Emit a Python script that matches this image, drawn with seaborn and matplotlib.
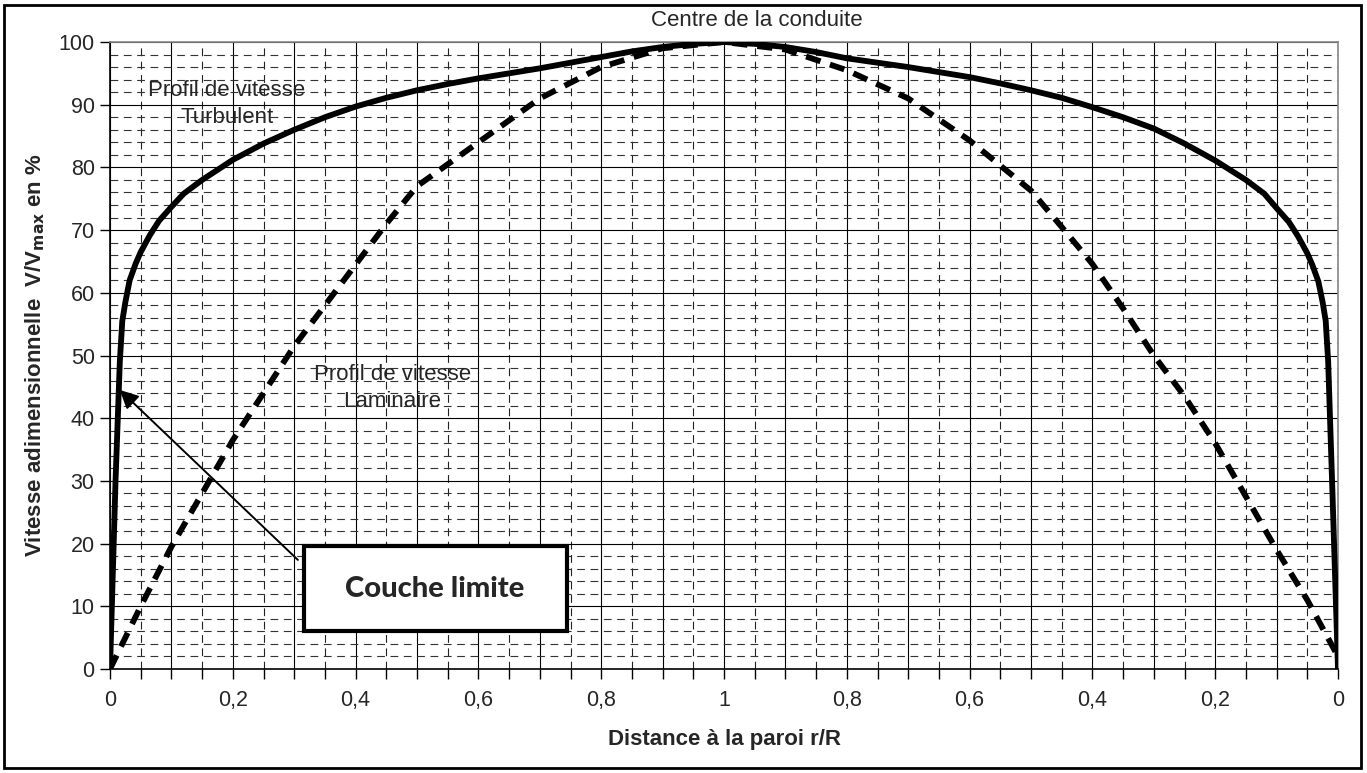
import numpy as np
import pandas as pd
import matplotlib
matplotlib.use("Agg")
import matplotlib.pyplot as plt
import seaborn as sns
from matplotlib.patches import Rectangle

# ---------------- data ----------------
# distance to the wall r/R (0 = wall, 1 = pipe centre)
turb_dist = [0, 0.009, 0.016, 0.02, 0.025, 0.032, 0.042, 0.05, 0.065, 0.08, 0.1, 0.12, 0.15,
             0.2, 0.25, 0.3, 0.35, 0.4, 0.45, 0.5, 0.55, 0.6, 0.65, 0.7, 0.75, 0.8, 0.85,
             0.9, 0.95, 1.0]
turb_left = [0, 30, 49, 55.5, 58.5, 62, 64.7, 66.5, 69.2, 71.5, 73.7, 75.8, 78,
             81.2, 83.8, 86, 88, 89.7, 91.1, 92.3, 93.3, 94.2, 95, 95.8, 96.7, 97.6, 98.5,
             99.2, 99.7, 100]
turb_right = [0, 28, 49, 55.5, 58.5, 61.8, 64.5, 66.3, 69, 71.3, 73.5, 75.8, 78,
              81.1, 83.8, 86.2, 88, 89.6, 91.1, 92.3, 93.4, 94.4, 95.2, 96, 96.7, 97.4, 98.4,
              99.2, 99.7, 100]

lam_dist = [0, 0.05, 0.1, 0.15, 0.2, 0.25, 0.3, 0.35, 0.4, 0.45, 0.5, 0.6, 0.7, 0.8, 0.9, 1.0]
lam_left = [0, 10, 19.5, 28, 36.5, 44, 51.5, 58, 64.5, 71, 77, 84, 91, 96, 99, 100]
lam_right = [2, 11, 19, 27.5, 36, 43.5, 50, 57.5, 64.6, 70.5, 76.3, 84.3, 91, 95.5, 98.8, 100]

tick_labels = ["0", "0,2", "0,4", "0,6", "0,8", "1", "0,8", "0,6", "0,4", "0,2", "0"]
y_ticks = [0, 10, 20, 30, 40, 50, 60, 70, 80, 90, 100]


def full_profile(dist, left, right, name):
    d = np.asarray(dist, float)
    pos = np.concatenate([d, (2 - d[::-1])[1:]])
    val = np.concatenate([np.asarray(left, float), np.asarray(right, float)[::-1][1:]])
    return pd.DataFrame({"pos": pos, "v": val, "profil": name})


df_turb = full_profile(turb_dist, turb_left, turb_right, "Turbulent")
df_lam = full_profile(lam_dist, lam_left, lam_right, "Laminaire")

# ---------------- figure ----------------
sns.set_theme(style="white")
plt.rcParams["font.family"] = ["Liberation Sans", "DejaVu Sans"]

W, H = 1367, 773
fig = plt.figure(figsize=(W / 100, H / 100), dpi=100)
ax = fig.add_axes([110 / W, 1 - 669 / H, (1338 - 110) / W, (669 - 42) / H])

# grid
for xv in np.arange(0, 2.0001, 0.1):
    ax.axvline(xv, color="black", lw=0.8, zorder=1)
for xv in np.arange(0.05, 2, 0.1):
    ax.axvline(xv, color="#222222", lw=0.8, ls=(0, (7, 5)), zorder=1)
for yv in range(10, 101, 10):
    ax.axhline(yv, color="black", lw=0.8, zorder=1)
for yv in range(2, 100, 2):
    if yv % 10:
        ax.axhline(yv, color="#333333", lw=0.8, ls=(0, (7, 5)), zorder=1)

sns.lineplot(data=df_turb, x="pos", y="v", sort=False, estimator=None,
             color="black", lw=4.2, ax=ax, zorder=3)
sns.lineplot(data=df_lam, x="pos", y="v", sort=False, estimator=None,
             color="black", lw=4.2, ax=ax, zorder=3, dashes=False)
ax.lines[-1].set_dashes((2.6, 1.7))

ax.set_xlim(0, 2)
ax.set_ylim(0, 100)
ax.set_xticks(np.arange(0, 2.0001, 0.05), minor=True)
ax.set_xticks(np.arange(0, 2.0001, 0.2))
ax.set_xticklabels(tick_labels)
ax.set_yticks(y_ticks)
ax.set_yticklabels([str(v) for v in y_ticks])
ax.tick_params(axis="both", which="major", direction="out", length=7, width=1,
               color="black", labelsize=15.5, pad=4, bottom=True, left=True)
ax.tick_params(axis="x", which="minor", direction="out", length=7, width=1,
               color="black", bottom=True)
ax.tick_params(axis="x", pad=8)

for s in ["left", "bottom"]:
    ax.spines[s].set_color("black")
    ax.spines[s].set_linewidth(1.2)
for s in ["top", "right"]:
    ax.spines[s].set_color("#888888")
    ax.spines[s].set_linewidth(1.2)

ax.set_xlabel("Distance à la paroi r/R", fontsize=16, fontweight="bold")
ax.set_ylabel(r"Vitesse adimensionnelle  V/V$_\mathbf{max}$ en %", fontsize=16,
              fontweight="bold")
ax.xaxis.set_label_coords(0.5, -0.095)
ax.yaxis.set_label_coords(-0.051, 0.5)

# annotations
ax.text(0.19, 92.3, "Profil de vitesse", ha="center", va="center", fontsize=16, zorder=4)
ax.text(0.19, 88.0, "Turbulent", ha="center", va="center", fontsize=16, zorder=4)
ax.text(0.46, 46.9, "Profil de vitesse", ha="center", va="center", fontsize=16, zorder=4)
ax.text(0.46, 42.6, "Laminaire", ha="center", va="center", fontsize=16, zorder=4)

fig.text(757 / W, 1 - 20 / H, "Centre de la conduite", ha="center", va="center", fontsize=16)

ax.annotate("", xy=(0.016, 44.5), xytext=(0.306, 17.4),
            arrowprops=dict(arrowstyle="-|>", color="black", lw=1.4,
                            mutation_scale=28, shrinkA=0, shrinkB=0), zorder=5)

box = Rectangle((304 / W, 1 - 631 / H), 263 / W, 85 / H, transform=fig.transFigure,
                facecolor="white", edgecolor="black", lw=3, zorder=6)
fig.patches.append(box)
fig.text(435 / W, 1 - 589 / H, "Couche limite", ha="center", va="center",
         fontsize=21, fontweight=900, family=["Lato", "DejaVu Sans"], zorder=7)

frame = Rectangle((4 / W, 5 / H), (1361 - 4) / W, (768 - 5) / H, transform=fig.transFigure,
                  facecolor="none", edgecolor="black", lw=2, zorder=10)
fig.patches.append(frame)

fig.savefig("out.png", dpi=100)
